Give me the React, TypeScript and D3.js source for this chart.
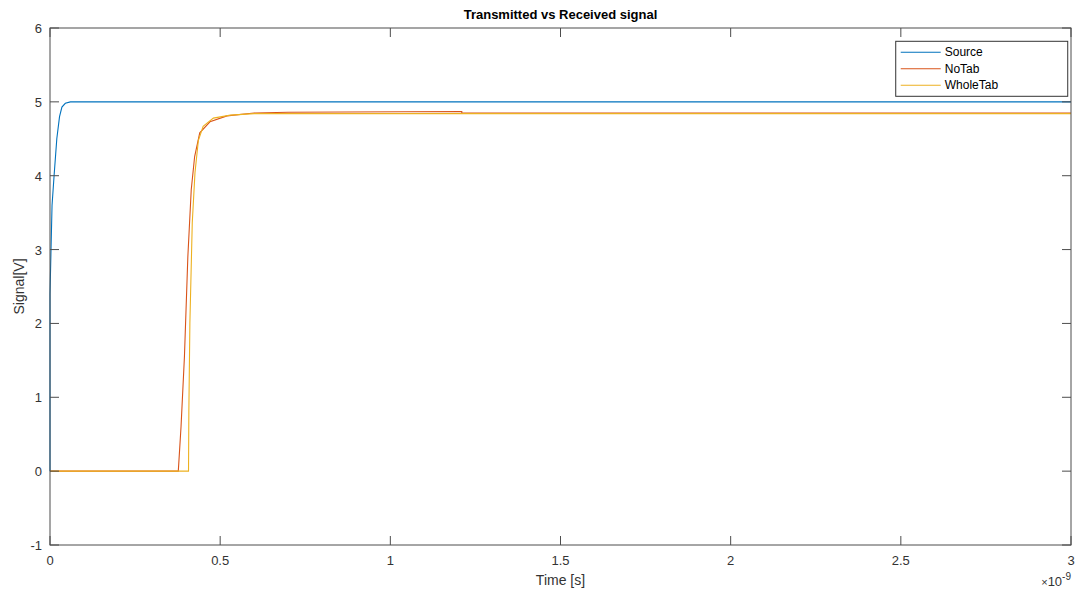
import React, { useEffect, useRef } from "react";
import * as d3 from "d3";

// time in ns (axis shows x10^-9), signal in V
const sourceT = [0, 0, 0, 0, 0.003, 0.006, 0.012, 0.02, 0.028, 0.035, 0.045, 0.06, 3];
const sourceV = [0, 2.4, 1.4, 2.4, 3.0, 3.6, 4.0, 4.5, 4.8, 4.93, 4.98, 5.0, 5.0];

const noTabT = [0, 0.377, 0.385, 0.395, 0.405, 0.415, 0.425, 0.44, 0.47, 0.52, 0.6, 0.7, 1.21, 1.21, 3];
const noTabV = [0, 0, 0.6, 1.55, 2.9, 3.81, 4.26, 4.58, 4.73, 4.81, 4.85, 4.86, 4.87, 4.85, 4.85];

const wholeTabT = [0, 0.407, 0.408, 0.411, 0.418, 0.426, 0.436, 0.45, 0.48, 0.53, 0.6, 1.21, 3];
const wholeTabV = [0, 0, 0.8, 2.0, 3.36, 4.04, 4.48, 4.67, 4.78, 4.82, 4.84, 4.84, 4.84];

const seriesNames = ["Source", "NoTab", "WholeTab"];
const seriesColors = ["#0072BD", "#D95319", "#EDB120"];
const xTicks = [0, 0.5, 1, 1.5, 2, 2.5, 3];
const yTicks = [-1, 0, 1, 2, 3, 4, 5, 6];

const App = () => {
  const ref = useRef<SVGSVGElement>(null);

  useEffect(() => {
    const svg = d3.select(ref.current);
    svg.selectAll("*").remove();

    const width = 1078, height = 592;
    const margin = { top: 28, right: 7, bottom: 47, left: 50 };
    const innerW = width - margin.left - margin.right;
    const innerH = height - margin.top - margin.bottom;
    const font = "'Liberation Sans', Arial, sans-serif";
    const axisColor = "#4d4d4d";

    svg.attr("width", width).attr("height", height);

    const x = d3.scaleLinear().domain([0, 3]).range([0, innerW]);
    const y = d3.scaleLinear().domain([-1, 6]).range([innerH, 0]);

    const g = svg.append("g").attr("transform", `translate(${margin.left},${margin.top})`);

    g.append("rect").attr("width", innerW).attr("height", innerH).attr("fill", "#fff");

    const data = [
      sourceT.map((t, i) => [t, sourceV[i]]),
      noTabT.map((t, i) => [t, noTabV[i]]),
      wholeTabT.map((t, i) => [t, wholeTabV[i]]),
    ];

    const line = d3.line<number[]>().x((d) => x(d[0])).y((d) => y(d[1]));

    data.forEach((pts, i) => {
      g.append("path")
        .attr("d", line(pts))
        .attr("fill", "none")
        .attr("stroke", seriesColors[i])
        .attr("stroke-width", 1.1);
    });

    // axes box
    g.append("rect")
      .attr("width", innerW).attr("height", innerH)
      .attr("fill", "none").attr("stroke", axisColor).attr("stroke-width", 1);

    const tickLen = 9;
    xTicks.forEach((t) => {
      g.append("line").attr("x1", x(t)).attr("x2", x(t)).attr("y1", innerH).attr("y2", innerH - tickLen)
        .attr("stroke", axisColor);
      g.append("line").attr("x1", x(t)).attr("x2", x(t)).attr("y1", 0).attr("y2", tickLen)
        .attr("stroke", axisColor);
      g.append("text")
        .attr("x", x(t)).attr("y", innerH + 20)
        .attr("text-anchor", "middle")
        .attr("font-family", font).attr("font-size", 13).attr("fill", "#333")
        .text(String(t));
    });

    yTicks.forEach((t) => {
      g.append("line").attr("x1", 0).attr("x2", tickLen).attr("y1", y(t)).attr("y2", y(t))
        .attr("stroke", axisColor);
      g.append("line").attr("x1", innerW).attr("x2", innerW - tickLen).attr("y1", y(t)).attr("y2", y(t))
        .attr("stroke", axisColor);
      g.append("text")
        .attr("x", -8).attr("y", y(t) + 5)
        .attr("text-anchor", "end")
        .attr("font-family", font).attr("font-size", 13).attr("fill", "#333")
        .text(String(t));
    });

    // x10^-9 exponent
    const expo = g.append("text")
      .attr("x", innerW).attr("y", innerH + 41)
      .attr("text-anchor", "end")
      .attr("font-family", font).attr("font-size", 13).attr("fill", "#333");
    expo.append("tspan").attr("font-size", 11).text("\u00d7");
    expo.append("tspan").text("10");
    expo.append("tspan").attr("dy", -6).attr("font-size", 10).text("-9");

    g.append("text")
      .attr("x", innerW / 2).attr("y", innerH + 40)
      .attr("text-anchor", "middle")
      .attr("font-family", font).attr("font-size", 14).attr("fill", "#333")
      .text("Time [s]");

    g.append("text")
      .attr("transform", `translate(-26,${innerH / 2}) rotate(-90)`)
      .attr("text-anchor", "middle")
      .attr("font-family", font).attr("font-size", 14).attr("fill", "#333")
      .text("Signal[V]");

    g.append("text")
      .attr("x", innerW / 2).attr("y", -9)
      .attr("text-anchor", "middle")
      .attr("font-family", font).attr("font-size", 13).attr("font-weight", "bold").attr("fill", "#000")
      .text("Transmitted vs Received signal");

    // legend
    const lg = g.append("g").attr("transform", `translate(${x(2.485)},${y(5.82)})`);
    lg.append("rect")
      .attr("width", 172).attr("height", 55)
      .attr("fill", "#fff").attr("stroke", "#333").attr("stroke-width", 1);
    seriesNames.forEach((name, i) => {
      const cy = 11 + i * 16.5;
      lg.append("line").attr("x1", 5).attr("x2", 45).attr("y1", cy).attr("y2", cy)
        .attr("stroke", seriesColors[i]).attr("stroke-width", 1.1);
      lg.append("text")
        .attr("x", 49).attr("y", cy + 4)
        .attr("font-family", font).attr("font-size", 12).attr("fill", "#000")
        .text(name);
    });
  }, []);

  return <svg ref={ref} style={{ position: "absolute", left: 0, top: 0 }} />;
};

export default App;
